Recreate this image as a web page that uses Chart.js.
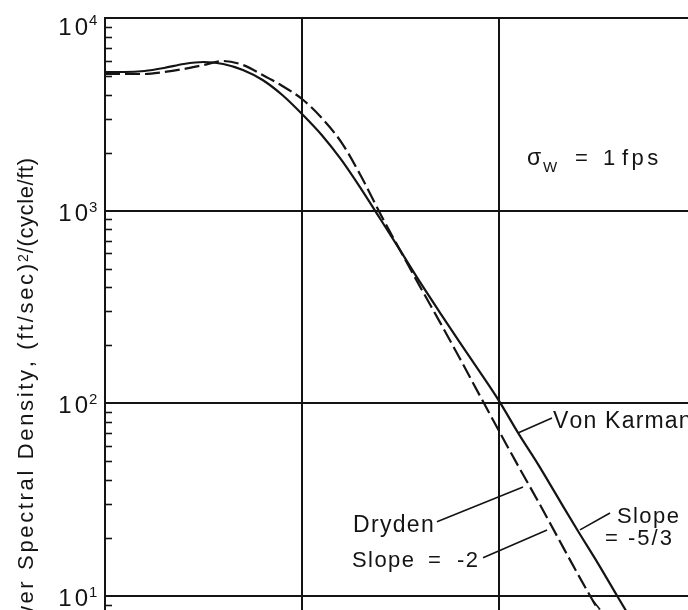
<!DOCTYPE html>
<html>
<head>
<meta charset="utf-8">
<script src="https://cdn.jsdelivr.net/npm/chart.js@4/dist/chart.umd.min.js"></script>
<style>
  html, body { margin: 0; padding: 0; background: #ffffff; }
  #wrap { width: 688px; height: 610px; position: relative; overflow: hidden; }
</style>
</head>
<body>
<div id="wrap"><canvas id="c" width="688" height="610"></canvas></div>
<script>
// ---- data (frequency in cycle/ft, PSD in (ft/sec)^2/(cycle/ft)) ----
const frequency = [1e-5, 1.259e-5, 1.585e-5, 1.995e-5, 2.512e-5, 3.162e-5, 3.981e-5, 5.012e-5, 6.310e-5, 7.943e-5,
                   1e-4, 1.259e-4, 1.585e-4, 1.995e-4, 2.512e-4, 3.162e-4, 3.981e-4, 5.012e-4, 6.310e-4, 7.943e-4,
                   1e-3, 1.259e-3, 1.585e-3, 1.995e-3, 2.512e-3, 3.162e-3, 3.981e-3, 5.012e-3, 6.310e-3, 1e-2];
const vonKarman = [5246, 5246, 5309, 5503, 5772, 5910, 5772, 5373, 4768, 3985,
                   3176, 2471, 1833, 1297, 897, 618, 424, 296, 208, 147,
                   103, 69.4, 47.9, 32.3, 21.8, 14.9, 10.0, 6.75, 4.55, 2.09];
const dryden    = [5122, 5122, 5122, 5246, 5438, 5704, 5983, 5704, 5061, 4437,
                   3799, 3028, 2262, 1508, 952, 618, 402, 264, 172, 111,
                   71.9, 46.8, 30.8, 20.0, 13.0, 8.57, 5.57, 3.63, 2.33, 1.0];
const yDecades = [10, 100, 1000, 10000];
const yTickBase = '10';
const yTickExponents = ['1', '2', '3', '4'];
const yTitle = ['Power Spectral Density, (ft/sec)', '2', '/(cycle/ft)'];

const INK = '#141414';
const FONT = '"Liberation Sans", Arial, Helvetica, sans-serif';

// annotation texts / leader lines placed in data space (log10 x, log10 y)
const notes = [
  { t: 'σ',    lx: -2.858, ly: 3.237, size: 23, sp: 0 },
  { t: 'W',    lx: -2.777, ly: 3.201, size: 15, sp: 0 },
  { t: '=',    lx: -2.614, ly: 3.237, size: 22, sp: 0 },
  { t: '1',    lx: -2.472, ly: 3.237, size: 22, sp: 0 },
  { t: 'fps',  lx: -2.376, ly: 3.237, size: 22, sp: 3.5 },
  { t: 'Von Karman', lx: -2.726, ly: 1.872, size: 23, sp: 1.2 },
  { t: 'Dryden', lx: -3.741, ly: 1.333, size: 23, sp: 1.3 },
  { t: 'Slope', lx: -3.746, ly: 1.151, size: 22, sp: 1.4 },
  { t: '=',     lx: -3.360, ly: 1.151, size: 22, sp: 0 },
  { t: '-2',    lx: -3.213, ly: 1.151, size: 22, sp: 1.5 },
  { t: 'Slope', lx: -2.401, ly: 1.379, size: 22, sp: 1.4 },
  { t: '=',     lx: -2.462, ly: 1.265, size: 22, sp: 0 },
  { t: '-5/3',  lx: -2.345, ly: 1.265, size: 22, sp: 2 }
];
const leaders = [
  [[-2.731, 1.924], [-2.904, 1.846]],
  [[-3.315, 1.385], [-2.878, 1.566]],
  [[-3.081, 1.198], [-2.756, 1.343]],
  [[-2.4365, 1.431], [-2.589, 1.343]],
  [[-2.523, 0.975], [-2.487, 0.930]]
];

function isDecade(v) {
  const l = Math.log10(v);
  return Math.abs(l - Math.round(l)) < 1e-6;
}

function drawTracked(ctx, text, x, y, spacing, align) {
  const chars = Array.from(text);
  const widths = chars.map(c => ctx.measureText(c).width);
  const total = widths.reduce((a, b) => a + b, 0) + spacing * (chars.length - 1);
  let cx = align === 'right' ? x - total : x;
  ctx.textAlign = 'left';
  chars.forEach((c, i) => { ctx.fillText(c, cx, y); cx += widths[i] + spacing; });
  return total;
}
function trackedWidth(ctx, text, spacing) {
  const chars = Array.from(text);
  return chars.reduce((a, c) => a + ctx.measureText(c).width, 0) + spacing * (chars.length - 1);
}

const decorPlugin = {
  id: 'decor',
  afterDraw(chart) {
    const { ctx, chartArea, scales } = chart;
    const xs = scales.x, ys = scales.y;
    ctx.save();
    ctx.fillStyle = INK;
    ctx.strokeStyle = INK;
    ctx.textBaseline = 'alphabetic';

    // minor tick marks on the inside of the y axis
    ctx.lineWidth = 1.6;
    [1, 10, 100, 1000].forEach(d => {
      for (let m = 2; m <= 9; m++) {
        const v = d * m;
        if (v < ys.min || v > ys.max) continue;
        const py = Math.round(ys.getPixelForValue(v)) + 0.5;
        ctx.beginPath();
        ctx.moveTo(chartArea.left, py);
        ctx.lineTo(chartArea.left + 7, py);
        ctx.stroke();
      }
    });

    // y tick labels 10^n
    yDecades.forEach((v, i) => {
      const py = ys.getPixelForValue(v);
      const top = i === yDecades.length - 1;
      ctx.font = '24px ' + FONT;
      drawTracked(ctx, yTickBase, chartArea.left - 17, py + (top ? 17 : 10), 3, 'right');
      ctx.font = '15px ' + FONT;
      drawTracked(ctx, yTickExponents[i], chartArea.left - 16, py + (top ? 7 : 1), 0, 'left');
    });

    // rotated y-axis title
    ctx.save();
    ctx.translate(33, chartArea.top + 140);
    ctx.rotate(-Math.PI / 2);
    ctx.font = '22px ' + FONT;
    const w1 = trackedWidth(ctx, yTitle[0], 2.65);
    const w3 = trackedWidth(ctx, yTitle[2], 0.6);
    ctx.font = '14px ' + FONT;
    const w2 = trackedWidth(ctx, yTitle[1], 0);
    const total = w1 + 2 + w2 + 1 + w3;
    let cx = -total;
    ctx.font = '22px ' + FONT;
    drawTracked(ctx, yTitle[0], cx, 0, 2.65, 'left');
    cx += w1 + 2;
    ctx.font = '14px ' + FONT;
    drawTracked(ctx, yTitle[1], cx, -5, 0, 'left');
    cx += w2 + 1;
    ctx.font = '22px ' + FONT;
    drawTracked(ctx, yTitle[2], cx, 0, 0.6, 'left');
    ctx.restore();

    // annotation texts
    notes.forEach(n => {
      ctx.font = n.size + 'px ' + FONT;
      const px = xs.getPixelForValue(Math.pow(10, n.lx));
      const py = ys.getPixelForValue(Math.pow(10, n.ly));
      drawTracked(ctx, n.t, px, py, n.sp, 'left');
    });

    // leader lines
    ctx.lineWidth = 1.6;
    leaders.forEach(([a, b]) => {
      ctx.beginPath();
      ctx.moveTo(xs.getPixelForValue(Math.pow(10, a[0])), ys.getPixelForValue(Math.pow(10, a[1])));
      ctx.lineTo(xs.getPixelForValue(Math.pow(10, b[0])), ys.getPixelForValue(Math.pow(10, b[1])));
      ctx.stroke();
    });
    ctx.restore();
  }
};

const toPoints = arr => frequency.map((f, i) => ({ x: f, y: arr[i] }));

new Chart(document.getElementById('c'), {
  type: 'line',
  data: {
    datasets: [
      {
        label: 'Von Karman',
        data: toPoints(vonKarman),
        borderColor: INK,
        borderWidth: 2.2,
        pointRadius: 0,
        fill: false,
        cubicInterpolationMode: 'monotone'
      },
      {
        label: 'Dryden',
        data: toPoints(dryden),
        borderColor: INK,
        borderWidth: 2.2,
        borderDash: [15, 5],
        pointRadius: 0,
        fill: false,
        cubicInterpolationMode: 'monotone'
      }
    ]
  },
  options: {
    responsive: false,
    animation: false,
    devicePixelRatio: 1,
    layout: { padding: { top: 18, left: 0, right: 0, bottom: 0 } },
    plugins: { legend: { display: false }, tooltip: { enabled: false } },
    scales: {
      x: {
        type: 'logarithmic',
        min: 1e-5,
        max: 9.107e-3,
        border: { display: false },
        ticks: { display: false },
        grid: {
          color: c => (c.tick && isDecade(c.tick.value)) ? INK : 'rgba(0,0,0,0)',
          lineWidth: 2,
          drawTicks: false
        },
        afterFit: s => { s.height = 0; }
      },
      y: {
        type: 'logarithmic',
        min: 8.46,
        max: 10000,
        border: { display: true, color: INK, width: 2 },
        ticks: { display: false },
        grid: {
          color: c => (c.tick && isDecade(c.tick.value)) ? INK : 'rgba(0,0,0,0)',
          lineWidth: 2,
          drawTicks: false
        },
        afterFit: s => { s.width = 105; }
      }
    }
  },
  plugins: [decorPlugin]
});
</script>
</body>
</html>
